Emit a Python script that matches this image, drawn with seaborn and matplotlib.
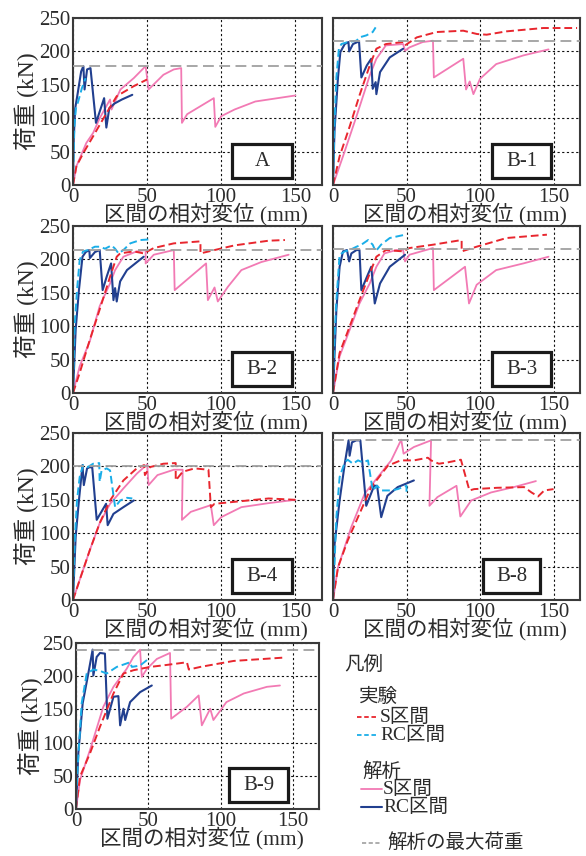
import matplotlib
matplotlib.use("Agg")
import matplotlib.pyplot as plt
import seaborn as sns
from matplotlib.patches import Rectangle
from matplotlib.lines import Line2D

# ---------------- data: load (kN) vs relative displacement (mm) ----------------
# Specimen A
a_max = 178
a_s_test_x = [0, 2.3, 7, 13.6, 22.7, 29.5, 41, 50]
a_s_test_y = [0, 28, 48, 73, 108, 133, 148, 158]
a_rc_test_x = [0, 0.4, 1, 2, 3.5, 6, 8.5]
a_rc_test_y = [0, 45, 90, 115, 125, 145, 160]
a_s_ana_x = [0, 2.3, 9, 13.6, 18, 25, 26, 32, 41, 49, 51, 61, 68, 73, 73.5, 77, 86, 95, 96, 100, 109, 123, 150]
a_s_ana_y = [0, 28, 63, 78, 100, 128, 113, 143, 160, 178, 143, 165, 173, 175, 93, 106, 118, 130, 87, 103, 113, 125, 134]
a_rc_ana_x = [0, 0.5, 1.5, 3, 5.5, 7, 7.8, 9.5, 11.8, 15.5, 21, 22.5, 24.5, 28, 33, 40]
a_rc_ana_y = [0, 70, 115, 135, 170, 178, 143, 173, 175, 93, 130, 86, 115, 122, 128, 135]

# Specimen B-1
b1_max = 216
b1_s_test_x = [0, 4.5, 11.4, 18, 25, 29.5, 36, 47.7, 49, 57, 70.5, 88.6, 98, 104.5, 118, 143, 166]
b1_s_test_y = [0, 43, 88, 134, 179, 204, 211, 214, 209, 221, 229, 231, 226, 225, 230, 235, 235]
b1_rc_test_x = [0, 1, 2.3, 4, 5.7, 10, 16, 18, 22.7, 27, 29]
b1_rc_test_y = [0, 90, 161, 204, 211, 214, 216, 221, 224, 229, 236]
b1_s_ana_x = [0, 6.8, 16, 25, 29.5, 36, 47.7, 49, 52, 61, 68, 68.6, 88.6, 90.5, 93, 95.5, 100, 111, 129.5, 146.6]
b1_s_ana_y = [0, 43, 103, 164, 189, 209, 211, 201, 206, 214, 216, 161, 189, 143, 155, 136, 159, 181, 194, 203]
b1_rc_ana_x = [0, 1, 3.4, 5, 8, 10.5, 11, 13.6, 17.7, 19.3, 23, 26, 27, 29, 29.5, 32, 38.6, 47.7]
b1_rc_ana_y = [0, 80, 161, 199, 211, 214, 200, 211, 215, 161, 179, 189, 144, 154, 136, 169, 191, 204]

# Specimen B-2
b2_max = 214
b2_s_test_x = [0, 4.5, 11.4, 18, 25, 29.5, 31.8, 41, 47.7, 54.5, 68, 86, 86, 95.5, 109, 132, 143]
b2_s_test_y = [0, 30, 80, 125, 174, 204, 209, 212, 209, 217, 224, 227, 209, 214, 221, 228, 229]
b2_rc_test_x = [0, 1.1, 2.7, 4.5, 6.8, 10, 14.8, 18, 21.6, 26, 28.4, 30.7, 34, 38.6, 45.5, 52]
b2_rc_test_y = [0, 100, 154, 199, 212, 214, 219, 219, 216, 221, 216, 209, 214, 224, 229, 230]
b2_s_ana_x = [0, 4.5, 11.4, 18, 25, 28.4, 34, 43, 49, 49, 54.5, 68, 68.6, 89.8, 91, 95.5, 97.7, 104.5, 113.6, 127, 145.5]
b2_s_ana_y = [0, 40, 78, 130, 164, 184, 204, 212, 214, 194, 207, 214, 154, 194, 139, 158, 137, 159, 184, 196, 207]
b2_rc_ana_x = [0, 1.8, 4, 6.4, 8.6, 11, 11.4, 14.8, 18, 20, 22.7, 25.7, 27.3, 28.4, 29.5, 31.8, 36.4, 47.7]
b2_rc_ana_y = [0, 95, 154, 204, 211, 214, 202, 211, 214, 154, 174, 194, 139, 157, 137, 167, 184, 204]

# Specimen B-3
b3_max = 215
b3_s_test_x = [0, 4.5, 11.4, 18, 25, 29.5, 36, 47.7, 52, 68, 87.5, 87.5, 97.7, 118, 145.5]
b3_s_test_y = [0, 60, 100, 139, 179, 204, 214, 212, 217, 222, 229, 212, 219, 232, 237]
b3_rc_test_x = [0, 1, 2.3, 4.5, 8, 11.4, 16, 19.3, 23.9, 27, 29, 32.7, 38.6, 49]
b3_rc_test_y = [0, 80, 139, 207, 212, 214, 219, 222, 229, 222, 212, 222, 232, 237]
b3_s_ana_x = [0, 4.5, 11.4, 18, 25, 29.5, 35, 43, 47.7, 49, 52, 68, 68.6, 89.8, 92.5, 97.7, 111, 129.5, 146.6]
b3_s_ana_y = [0, 55, 95, 134, 164, 189, 209, 214, 214, 197, 207, 217, 154, 189, 134, 162, 184, 194, 204]
b3_rc_ana_x = [0, 2.3, 4.5, 6.8, 9.5, 11, 12.5, 16, 18, 19.3, 22.7, 26, 28.4, 32, 38.6, 49]
b3_rc_ana_y = [0, 125, 189, 212, 214, 197, 209, 214, 214, 154, 172, 189, 134, 164, 189, 207]

# Specimen B-4
b4_max = 200
b4_s_test_x = [0, 4.5, 11.4, 18, 25, 34, 43, 48, 48.5, 52, 61, 69.3, 69.3, 74, 82, 91.4, 93, 95.5, 109, 132, 150]
b4_s_test_y = [0, 30, 75, 115, 149, 179, 197, 202, 187, 199, 204, 205, 179, 192, 197, 195, 139, 144, 147, 152, 150]
b4_rc_test_x = [0, 1.1, 2.7, 4.5, 6.8, 10, 13.6, 17.7, 18, 19.3, 22.7, 25, 28.4, 31.8, 36.4, 40]
b4_rc_test_y = [0, 85, 149, 184, 202, 199, 204, 205, 177, 194, 197, 194, 139, 149, 153, 152]
b4_s_ana_x = [0, 4.5, 11.4, 18, 25, 34, 43, 50, 51, 57, 68, 74, 73.5, 79.5, 93, 95, 100, 113.6, 132, 150]
b4_s_ana_y = [0, 30, 75, 115, 144, 167, 189, 203, 172, 187, 195, 195, 120, 132, 142, 112, 124, 139, 145, 150]
b4_rc_ana_x = [0, 1.8, 4, 6.4, 7.3, 9.5, 11.4, 13, 16, 22.3, 23.4, 27.3, 34, 41]
b4_rc_ana_y = [0, 95, 149, 202, 172, 197, 199, 198, 120, 144, 112, 129, 139, 149]

# Specimen B-8
b8_max = 240
b8_s_test_x = [0, 3.4, 10, 17, 26, 37.3, 46, 55, 64.5, 66.7, 72, 78, 87, 92.8, 96, 111.8, 130, 135, 139.5, 143.7, 150]
b8_s_test_y = [0, 49, 89, 124, 169, 201, 209, 209, 213, 209, 204, 206, 210, 164, 166, 168, 169, 161, 155, 164, 166]
b8_rc_test_x = [0, 1.1, 2.3, 4.5, 8, 10, 13.6, 17, 20.4, 23.8, 27, 30, 32.8, 39.6, 44, 50, 50]
b8_rc_test_y = [0, 59, 124, 184, 206, 210, 204, 209, 206, 209, 164, 171, 164, 164, 166, 171, 156]
b8_s_ana_x = [0, 3.4, 12.4, 21.5, 30.5, 39.6, 46.4, 48, 55, 66.7, 65.6, 71, 84, 86.6, 94, 107.5, 123, 138]
b8_s_ana_y = [0, 49, 109, 159, 184, 209, 240, 219, 229, 239, 141, 154, 171, 125, 149, 161, 169, 178]
b8_rc_ana_x = [0, 1.1, 4.5, 8, 10.6, 11.3, 12.9, 15.8, 18.6, 22.6, 28, 30, 32.8, 37, 44, 55]
b8_rc_ana_y = [0, 84, 149, 204, 239, 216, 236, 239, 239, 141, 171, 171, 124, 156, 169, 179]

# Specimen B-9
b9_max = 240
b9_s_test_x = [0, 2.8, 9.7, 16.6, 25.9, 32.8, 39.7, 51.3, 62.8, 76.7, 78, 86, 109, 143.6]
b9_s_test_y = [0, 49, 84, 124, 174, 204, 209, 214, 217, 221, 210, 214, 223, 228]
b9_rc_test_x = [0, 0.9, 3.9, 7.4, 12, 16.6, 21.2, 28.2, 37.4, 38.6, 44.3, 50]
b9_rc_test_y = [0, 54, 159, 204, 210, 208, 204, 214, 221, 214, 216, 226]
b9_s_ana_x = [0, 2.8, 9.7, 18.9, 25.9, 35, 39.7, 44.3, 45.5, 49, 55.9, 65, 65.8, 76.7, 84.8, 87, 92.8, 95, 104, 116, 132, 141]
b9_s_ana_y = [0, 44, 89, 154, 184, 211, 229, 240, 199, 211, 226, 235, 136, 154, 171, 126, 151, 134, 161, 174, 184, 186]
b9_rc_ana_x = [0, 1.6, 4.6, 8.5, 11.5, 12, 14.3, 16.6, 20, 21.7, 25.9, 29.3, 30.5, 32.8, 34, 37.4, 44.3, 52.4]
b9_rc_ana_y = [0, 84, 159, 204, 240, 201, 229, 235, 234, 136, 169, 170, 126, 151, 134, 161, 176, 186]

x_ticks = [0, 50, 100, 150]
y_ticks = [0, 50, 100, 150, 200, 250]

# ---------------- styling ----------------
C_S_TEST = "#e8262e"
C_RC_TEST = "#1aaee8"
C_S_ANA = "#f27ab4"
C_RC_ANA = "#213f8f"
C_MAX = "#a0a0a0"
TXT = "#2b2b2b"

sns.set_theme(style="white")
plt.rcParams["font.family"] = ["Liberation Serif", "Noto Sans CJK JP"]

W, H = 586, 856
fig = plt.figure(figsize=(W / 100, H / 100), dpi=100)


def rect(l, t, r, b):
    return [l / W, 1 - b / H, (r - l) / W, (b - t) / H]


panels = [
    ("A", rect(73, 18, 322, 185), a_max,
     (a_s_test_x, a_s_test_y), (a_rc_test_x, a_rc_test_y),
     (a_s_ana_x, a_s_ana_y), (a_rc_ana_x, a_rc_ana_y), True, (0.64, 0.88)),
    ("B-1", rect(333, 18, 580, 185), b1_max,
     (b1_s_test_x, b1_s_test_y), (b1_rc_test_x, b1_rc_test_y),
     (b1_s_ana_x, b1_s_ana_y), (b1_rc_ana_x, b1_rc_ana_y), False, (0.644, 0.883)),
    ("B-2", rect(73, 226, 322, 393), b2_max,
     (b2_s_test_x, b2_s_test_y), (b2_rc_test_x, b2_rc_test_y),
     (b2_s_ana_x, b2_s_ana_y), (b2_rc_ana_x, b2_rc_ana_y), True, (0.64, 0.88)),
    ("B-3", rect(333, 226, 580, 393), b3_max,
     (b3_s_test_x, b3_s_test_y), (b3_rc_test_x, b3_rc_test_y),
     (b3_s_ana_x, b3_s_ana_y), (b3_rc_ana_x, b3_rc_ana_y), False, (0.644, 0.883)),
    ("B-4", rect(73, 433, 322, 600), b4_max,
     (b4_s_test_x, b4_s_test_y), (b4_rc_test_x, b4_rc_test_y),
     (b4_s_ana_x, b4_s_ana_y), (b4_rc_ana_x, b4_rc_ana_y), True, (0.64, 0.88)),
    ("B-8", rect(333, 433, 580, 600), b8_max,
     (b8_s_test_x, b8_s_test_y), (b8_rc_test_x, b8_rc_test_y),
     (b8_s_ana_x, b8_s_ana_y), (b8_rc_ana_x, b8_rc_ana_y), False, (0.607, 0.838)),
    ("B-9", rect(76, 643, 319, 809), b9_max,
     (b9_s_test_x, b9_s_test_y), (b9_rc_test_x, b9_rc_test_y),
     (b9_s_ana_x, b9_s_ana_y), (b9_rc_ana_x, b9_rc_ana_y), True, (0.63, 0.872)),
]

for name, pos, pmax, s_test, rc_test, s_ana, rc_ana, left_col, box_x in panels:
    ax = fig.add_axes(pos)
    ax.set_xlim(0, 168)
    ax.set_ylim(0, 250)
    ax.set_xticks(x_ticks)
    ax.set_yticks(y_ticks)
    ax.grid(True, color="#111111", linestyle=(0, (2, 2.2)), linewidth=0.8)
    ax.set_axisbelow(True)
    for sp in ax.spines.values():
        sp.set_color("#3a3a3a")
        sp.set_linewidth(1.5)
    ax.tick_params(length=0, labelsize=15, pad=2, colors=TXT)
    if not left_col:
        ax.tick_params(labelleft=False)

    # analysis curves (solid) and test curves (dashed)
    sns.lineplot(x=s_ana[0], y=s_ana[1], ax=ax, color=C_S_ANA, linewidth=1.3,
                 sort=False, estimator=None, legend=False)
    sns.lineplot(x=rc_ana[0], y=rc_ana[1], ax=ax, color=C_RC_ANA, linewidth=1.5,
                 sort=False, estimator=None, legend=False)
    sns.lineplot(x=s_test[0], y=s_test[1], ax=ax, color=C_S_TEST, linewidth=1.4,
                 linestyle=(0, (4, 2)), sort=False, estimator=None, legend=False)
    sns.lineplot(x=rc_test[0], y=rc_test[1], ax=ax, color=C_RC_TEST, linewidth=1.4,
                 linestyle=(0, (4, 2)), sort=False, estimator=None, legend=False)
    ax.axhline(pmax, color=C_MAX, linestyle=(0, (6, 3)), linewidth=1.3, zorder=5)

    ax.set_xlabel("区間の相対変位 (mm)", fontsize=15.5, color=TXT)
    if name == "B-9":
        ax.xaxis.set_label_coords(0.52, -0.175)
    else:
        ax.xaxis.set_label_coords(0.534, -0.177)
    ax.xaxis.label.set_va("center")
    if left_col:
        ax.set_ylabel("荷重 (kN)", fontsize=17, color=TXT)
        ax.yaxis.set_label_coords(-0.185, 0.5)
        ax.yaxis.label.set_va("center")
    else:
        ax.set_ylabel("")

    # specimen name box
    bx0, bx1 = box_x
    ax.add_patch(Rectangle((bx0, 0.04), bx1 - bx0, 0.205, transform=ax.transAxes,
                           facecolor="white", edgecolor="#1a1a1a", linewidth=2.3, zorder=6))
    ax.text((bx0 + bx1) / 2, 0.1425, name, transform=ax.transAxes, ha="center",
            va="center", fontsize=15, color=TXT, zorder=7)

# ---------------- legend ----------------
def fx(px):
    return px / W


def fy(py):
    return 1 - py / H


def legend_text(x, y, s):
    fig.text(fx(x), fy(y), s, ha="left", va="center", fontsize=14, color=TXT)


def legend_line(x0, x1, y, color, ls, lw):
    fig.add_artist(Line2D([fx(x0), fx(x1)], [fy(y), fy(y)], transform=fig.transFigure,
                          color=color, linestyle=ls, linewidth=lw))


legend_text(344, 665, "凡例")
legend_text(359, 697, "実験")
legend_line(357, 378, 717, C_S_TEST, (0, (2.5, 1.5)), 1.3)
legend_text(380, 717, "S区間")
legend_line(357, 378, 735, C_RC_TEST, (0, (2.5, 1.5)), 1.3)
legend_text(380, 735, "RC区間")
legend_text(362, 772, "解析")
legend_line(361, 382, 789, C_S_ANA, "-", 1.3)
legend_text(383, 789, "S区間")
legend_line(361, 382, 807, C_RC_ANA, "-", 1.5)
legend_text(383, 807, "RC区間")
legend_line(362, 380, 843, C_MAX, (0, (2.5, 1.5)), 1.2)
legend_text(387, 843, "解析の最大荷重")

fig.savefig("out.png", dpi=100, facecolor="white")
